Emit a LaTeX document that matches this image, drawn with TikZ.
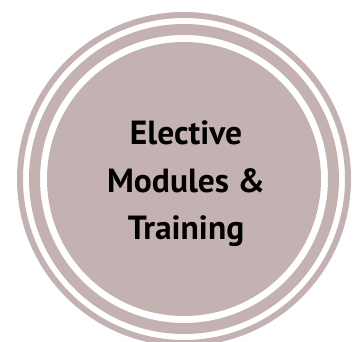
\documentclass[tikz,border=0pt]{standalone}
\usepackage{fontspec}
\setmainfont{PT Sans}
\definecolor{mauve}{RGB}{196,177,178}
\begin{document}
\begin{tikzpicture}[x=1pt,y=1pt,
  ring/.style={draw=mauve},
  disc/.style={fill=mauve},
  lbl/.style={align=center,font=\bfseries\fontsize{33.5}{47.5}\selectfont,text=black,inner sep=0pt}]
\useasboundingbox (0,0) rectangle (357,342);
\coordinate (c) at (184,163);
\draw[ring,line width=6pt] (c) circle[radius=164];
\draw[ring,line width=11pt] (c) circle[radius=149.5];
\fill[disc] (c) circle[radius=137];
\node[lbl] (label) at (186,158) {Elective\\Modules \&\\Training};
\end{tikzpicture}
\end{document}
